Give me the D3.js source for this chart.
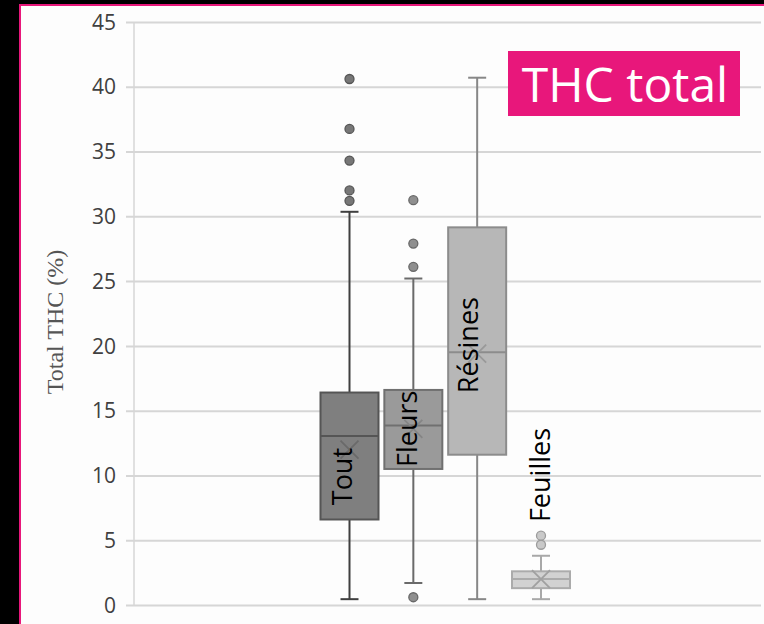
<!DOCTYPE html>
<html><head><meta charset="utf-8">
<script src="https://cdn.jsdelivr.net/npm/d3@7"></script>
<style>html,body{margin:0;padding:0;background:#000;}svg{display:block;}</style>
</head><body>
<script>
const series = ["Tout", "Fleurs", "Résines", "Feuilles"];
const q1 = [6.6, 10.5, 11.6, 1.3];
const median = [13.05, 13.85, 19.5, 2.0];
const q3 = [16.4, 16.6, 29.15, 2.6];
const mean = [12.0, 13.6, 19.4, 2.0];
const whiskerLow = [0.45, 1.7, 0.45, 0.45];
const whiskerHigh = [30.35, 25.2, 40.7, 3.8];
const outliers = [[31.2, 32.0, 34.3, 36.75, 40.6], [0.6, 26.1, 27.9, 31.25], [], [4.65, 5.35]];
const yTicks = [0, 5, 10, 15, 20, 25, 30, 35, 40, 45];
const yTitle = "Total THC (%)";
const chartTitle = "THC total";

const W = 764, H = 624;
const pink = "#e8177b";
const fills = ["#7f7f7f", "#9a9a9a", "#b7b7b7", "#d2d2d2"];
const strokes = ["#555555", "#707070", "#8c8c8c", "#ababab"];
const whiskerCol = ["#3f3f3f", "#6a6a6a", "#878787", "#a8a8a8"];
const ptFill = ["#777777", "#8f8f8f", "#aaaaaa", "#c9c9c9"];
const ptStroke = ["#555555", "#686868", "#888888", "#9c9c9c"];
const meanCol = ["#6a6a6a", "#858585", "#999999", "#a0a0a0"];

const svg = d3.select("body").append("svg").attr("width", W).attr("height", H);
svg.append("rect").attr("width", W).attr("height", H).attr("fill", "#000");
svg.append("rect").attr("x", 19).attr("y", 4).attr("width", W - 19).attr("height", H - 4).attr("fill", pink);
svg.append("rect").attr("x", 21).attr("y", 6).attr("width", W - 21).attr("height", H - 6).attr("fill", "#fdfdfd");

const y = d3.scaleLinear().domain([0, 45]).range([605, 22]);
const x = d3.scalePoint().domain(series).range([349.5, 541]);
const bw = 58, cap = 18;

// gridlines + axis
const yAxis = d3.axisLeft(y).tickValues(yTicks).tickSize(8).tickPadding(10).tickFormat(d3.format("d"));
const ga = svg.append("g").attr("transform", "translate(134,0)").call(yAxis);
ga.select(".domain").attr("stroke", "#d6d6d6").attr("stroke-width", 1.5).attr("d", `M0,${y(45)}V${y(0)}`);
ga.selectAll(".tick line").attr("stroke", "#d6d6d6").attr("stroke-width", 2).attr("x1", -8).attr("x2", 761 - 134);
ga.selectAll(".tick text").attr("fill", "#404040").style("font-family", "'Open Sans'").style("font-size", "21px").attr("dy", "0.34em");

svg.append("text").attr("transform", `translate(63,${322}) rotate(-90)`).attr("text-anchor", "middle")
  .style("font-family", "'Liberation Serif', 'Times New Roman', serif").style("font-size", "24px").attr("fill", "#555")
  .text(yTitle);

// boxes
series.forEach((s, i) => {
  const cx = x(s);
  const g = svg.append("g");
  g.append("line").attr("x1", cx).attr("x2", cx).attr("y1", y(whiskerHigh[i])).attr("y2", y(q3[i])).attr("stroke", whiskerCol[i]).attr("stroke-width", 2);
  g.append("line").attr("x1", cx).attr("x2", cx).attr("y1", y(q1[i])).attr("y2", y(whiskerLow[i])).attr("stroke", whiskerCol[i]).attr("stroke-width", 2);
  [whiskerHigh[i], whiskerLow[i]].forEach(v => {
    g.append("line").attr("x1", cx - cap / 2).attr("x2", cx + cap / 2).attr("y1", y(v)).attr("y2", y(v)).attr("stroke", whiskerCol[i]).attr("stroke-width", 2);
  });
  g.append("rect").attr("x", cx - bw / 2).attr("width", bw).attr("y", y(q3[i])).attr("height", y(q1[i]) - y(q3[i]))
    .attr("fill", fills[i]).attr("stroke", strokes[i]).attr("stroke-width", 2);
  g.append("line").attr("x1", cx - bw / 2).attr("x2", cx + bw / 2).attr("y1", y(median[i])).attr("y2", y(median[i])).attr("stroke", strokes[i]).attr("stroke-width", 2);
  const my = y(mean[i]), m = 9;
  g.append("path").attr("d", `M${cx - m},${my - m}L${cx + m},${my + m}M${cx + m},${my - m}L${cx - m},${my + m}`)
    .attr("stroke", meanCol[i]).attr("stroke-width", 1.8).attr("fill", "none");
  outliers[i].forEach(v => {
    g.append("circle").attr("cx", cx).attr("cy", y(v)).attr("r", 4.5).attr("fill", ptFill[i]).attr("stroke", ptStroke[i]).attr("stroke-width", 1.3);
  });
});

// series labels
const labelDx = [2.5, 4, 1, 9];
const labelAt = [7.7, 10.65, 16.35, 6.4];
series.forEach((s, i) => {
  svg.append("text").attr("transform", `translate(${x(s) + labelDx[i]},${y(labelAt[i])}) rotate(-90)`)
    .attr("text-anchor", "start").style("font-family", "'Open Sans'").style("font-size", "27px").attr("fill", "#000")
    .text(s);
});

// title badge
svg.append("rect").attr("x", 508).attr("y", 51).attr("width", 232).attr("height", 65).attr("fill", pink);
svg.append("text").attr("x", 625).attr("y", 101.5).attr("text-anchor", "middle").attr("fill", "#fff")
  .style("font-family", "'Open Sans'").style("font-size", "48px").text(chartTitle);
</script>
</body></html>
